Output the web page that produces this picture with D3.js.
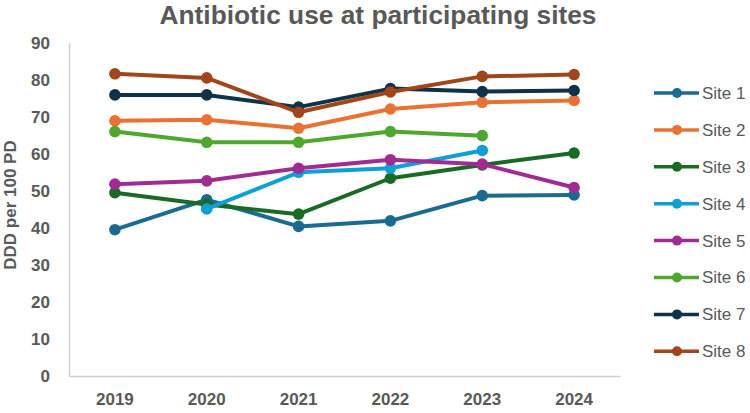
<!DOCTYPE html>
<html>
<head>
<meta charset="utf-8">
<script src="https://cdn.jsdelivr.net/npm/d3@7"></script>
<style>
  body { margin: 0; background: #fff; }
  svg { display: block; }
</style>
</head>
<body>
<svg id="chart"></svg>
<script>
CHART_WIDTH = 750;
CHART_HEIGHT = 413;
PLOT = { left: 69, right: 620, top: 42.7, bottom: 376 };

var years = ["2019", "2020", "2021", "2022", "2023", "2024"];
var siteNames = ["Site 1", "Site 2", "Site 3", "Site 4", "Site 5", "Site 6", "Site 7", "Site 8"];
var yTicks = [0, 10, 20, 30, 40, 50, 60, 70, 80, 90];

// one array per site, null = no value that year
var site1 = [39.5, 47.6, 40.4, 41.9, 48.7, 48.9];
var site2 = [68.9, 69.2, 66.9, 72.1, 73.9, 74.4];
var site3 = [49.5, 46.3, 43.7, 53.4, 57.0, 60.2];
var site4 = [null, 45.1, 55.0, 56.1, 60.9, null];
var site5 = [51.8, 52.7, 56.1, 58.4, 57.2, 50.9];
var site6 = [66.0, 63.1, 63.1, 66.0, 64.9, null];
var site7 = [75.9, 75.9, 72.6, 77.6, 76.8, 77.1];
var site8 = [81.6, 80.5, 71.2, 76.7, 80.9, 81.4];

var siteColors = ["#1A6B91", "#E97132", "#196B24", "#0F9ED5", "#A02B93", "#4EA72E", "#0E3249", "#A1461A"];

function main() {
    var svg = d3.select("#chart")
        .attr("width", CHART_WIDTH)
        .attr("height", CHART_HEIGHT);

    var series = [site1, site2, site3, site4, site5, site6, site7, site8].map(function(vals, i) {
        return {
            name: siteNames[i],
            color: siteColors[i],
            points: vals.map(function(v, j) { return { year: years[j], value: v }; })
        };
    });

    var x = d3.scaleBand().domain(years).range([PLOT.left, PLOT.right]);
    var y = d3.scaleLinear().domain([0, 90]).range([PLOT.bottom, PLOT.top]);

    drawTitle(svg);
    drawAxes(svg, x, y);
    drawSeries(svg, series, x, y);
    drawLegend(svg, series);
}

function drawTitle(svg) {
    svg.append("text")
        .attr("x", 378)
        .attr("y", 24)
        .attr("text-anchor", "middle")
        .attr("textLength", 437)
        .attr("lengthAdjust", "spacingAndGlyphs")
        .style("font", "bold 26px 'Liberation Sans Narrow', 'Liberation Sans', Arial, sans-serif")
        .style("fill", "#595959")
        .text("Antibiotic use at participating sites");

    svg.append("text")
        .attr("transform", "translate(16,205) rotate(-90)")
        .attr("text-anchor", "middle")
        .style("font", "bold 17px 'Liberation Sans', Arial, sans-serif")
        .style("fill", "#595959")
        .text("DDD per 100 PD");
}

function drawAxes(svg, x, y) {
    var yAxis = svg.append("g")
        .attr("class", "axis axis--y")
        .attr("transform", "translate(" + PLOT.left + ",0)")
        .call(d3.axisLeft(y).tickValues(yTicks).tickSize(0).tickPadding(19));
    yAxis.select(".domain").attr("stroke", "#D0D0D0").attr("stroke-width", 1.5);
    yAxis.selectAll("text")
        .style("font", "bold 17px 'Liberation Sans', Arial, sans-serif")
        .style("fill", "#595959");

    var xAxis = svg.append("g")
        .attr("class", "axis axis--x")
        .attr("transform", "translate(0," + PLOT.bottom + ")")
        .call(d3.axisBottom(x).tickSize(0).tickPadding(17));
    xAxis.select(".domain").attr("stroke", "#D0D0D0").attr("stroke-width", 1.5);
    xAxis.selectAll("text")
        .style("font", "bold 17px 'Liberation Sans', Arial, sans-serif")
        .style("fill", "#595959");
}

function drawSeries(svg, series, x, y) {
    var half = x.bandwidth() / 2;
    var line = d3.line()
        .defined(function(d) { return d.value !== null; })
        .x(function(d) { return x(d.year) + half; })
        .y(function(d) { return y(d.value); });

    var site = svg.selectAll(".site")
        .data(series)
        .enter().append("g")
        .attr("class", "site");

    site.append("path")
        .attr("d", function(d) { return line(d.points); })
        .attr("fill", "none")
        .attr("stroke-width", 4)
        .attr("stroke-linejoin", "round")
        .style("stroke", function(d) { return d.color; });

    site.selectAll("circle")
        .data(function(d) {
            return d.points
                .filter(function(p) { return p.value !== null; })
                .map(function(p) { return { year: p.year, value: p.value, color: d.color }; });
        })
        .enter().append("circle")
        .attr("cx", function(d) { return x(d.year) + half; })
        .attr("cy", function(d) { return y(d.value); })
        .attr("r", 5.8)
        .style("fill", function(d) { return d.color; });
}

function drawLegend(svg, series) {
    var legend = svg.selectAll(".legend")
        .data(series)
        .enter().append("g")
        .attr("class", "legend")
        .attr("transform", function(d, i) { return "translate(0," + (93 + i * 36.9) + ")"; });

    legend.append("line")
        .attr("x1", 654)
        .attr("x2", 699)
        .attr("stroke-width", 3.5)
        .style("stroke", function(d) { return d.color; });

    legend.append("circle")
        .attr("cx", 677)
        .attr("r", 5)
        .style("fill", function(d) { return d.color; });

    legend.append("text")
        .attr("x", 702)
        .attr("dy", "0.35em")
        .style("font", "17px 'Liberation Sans', Arial, sans-serif")
        .style("fill", "#595959")
        .text(function(d) { return d.name; });
}

main();
</script>
</body>
</html>
